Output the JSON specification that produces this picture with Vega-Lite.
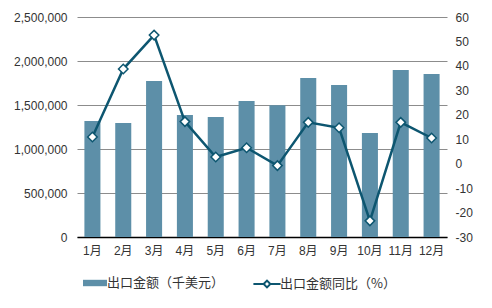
{
  "$schema": "https://vega.github.io/schema/vega-lite/v6.json",
  "width": 370,
  "height": 220,
  "autosize": "none",
  "padding": {"left": 77, "top": 17, "right": 45, "bottom": 71},
  "config": {
    "font": "Liberation Sans, Noto Sans CJK SC",
    "view": {"stroke": null},
    "axis": {"labelFont": "Liberation Sans, Noto Sans CJK SC", "labelFontSize": 12, "labelColor": "#333", "title": null, "labelOverlap": false}
  },
  "data": {"values": [
    {"month": "1月", "amount": 1318000, "yoy": 10.9},
    {"month": "2月", "amount": 1295000, "yoy": 38.7},
    {"month": "3月", "amount": 1773000, "yoy": 52.6},
    {"month": "4月", "amount": 1386000, "yoy": 17.2},
    {"month": "5月", "amount": 1364000, "yoy": 2.7},
    {"month": "6月", "amount": 1545000, "yoy": 6.5},
    {"month": "7月", "amount": 1496000, "yoy": -0.8},
    {"month": "8月", "amount": 1807000, "yoy": 16.9},
    {"month": "9月", "amount": 1727000, "yoy": 14.7},
    {"month": "10月", "amount": 1182000, "yoy": -23.4},
    {"month": "11月", "amount": 1898000, "yoy": 16.9},
    {"month": "12月", "amount": 1852000, "yoy": 10.5}
  ]},
  "encoding": {
    "x": {"field": "month", "type": "nominal", "sort": null,
      "scale": {"paddingInner": 0.48, "paddingOuter": 0.24},
      "axis": {"labelAngle": 0, "ticks": false, "domainColor": "#000", "domainWidth": 1.5, "labelPadding": 8, "grid": false}}
  },
  "layer": [
    {
      "mark": {"type": "bar", "color": "#5d8fa8"},
      "encoding": {
        "y": {"field": "amount", "type": "quantitative",
          "scale": {"domain": [0, 2500000], "nice": false},
          "axis": {"values": [0, 500000, 1000000, 1500000, 2000000, 2500000], "format": ",.0f", "domain": false, "ticks": false, "labelPadding": 10, "gridColor": "#8c8c8c", "gridWidth": 1}},
        "fill": {"datum": "出口金额（千美元）", "type": "nominal",
          "scale": {"range": ["#5d8fa8"]},
          "legend": {"orient": "none", "legendX": 10, "legendY": 258, "direction": "horizontal", "title": null,
            "symbolType": "M-1.5,-0.4H1.5V0.4H-1.5Z", "symbolSize": 256, "symbolStrokeWidth": 0,
            "labelFontSize": 13, "labelColor": "#333", "labelFont": "Noto Sans CJK SC", "padding": 0}}
      }
    },
    {
      "encoding": {
        "y": {"field": "yoy", "type": "quantitative",
          "scale": {"domain": [-30, 60], "nice": false},
          "axis": {"orient": "right", "values": [-30, -20, -10, 0, 10, 20, 30, 40, 50, 60], "labelExpr": "datum.value + ''", "labelOverlap": false, "domain": false, "ticks": false, "grid": false, "labelPadding": 8}}
      },
      "layer": [
        {
          "mark": {"type": "line", "color": "#0d5670", "strokeWidth": 2.5},
          "encoding": {
            "stroke": {"datum": "出口金额同比（%）", "type": "nominal",
              "scale": {"range": ["#0d5670"]},
              "legend": {"orient": "none", "legendX": 181, "legendY": 258, "direction": "horizontal", "title": null,
                "symbolType": "M-1.7,0H-0.42M0.42,0H1.7M-0.42,0L0,-0.42L0.42,0L0,0.42Z", "symbolSize": 256, "symbolStrokeWidth": 2, "symbolFillColor": "white",
                "labelFontSize": 13, "labelColor": "#333", "labelFont": "Noto Sans CJK SC", "padding": 0,
                "encode": {"symbols": {"update": {"fill": {"value": "white"}}}}}}
          }
        },
        {
          "mark": {"type": "point", "shape": "diamond", "filled": true, "fill": "white", "stroke": "#0d5670", "strokeWidth": 1.5, "size": 90, "opacity": 1}
        }
      ]
    }
  ],
  "resolve": {"scale": {"y": "independent", "fill": "independent", "stroke": "independent"}}
}
